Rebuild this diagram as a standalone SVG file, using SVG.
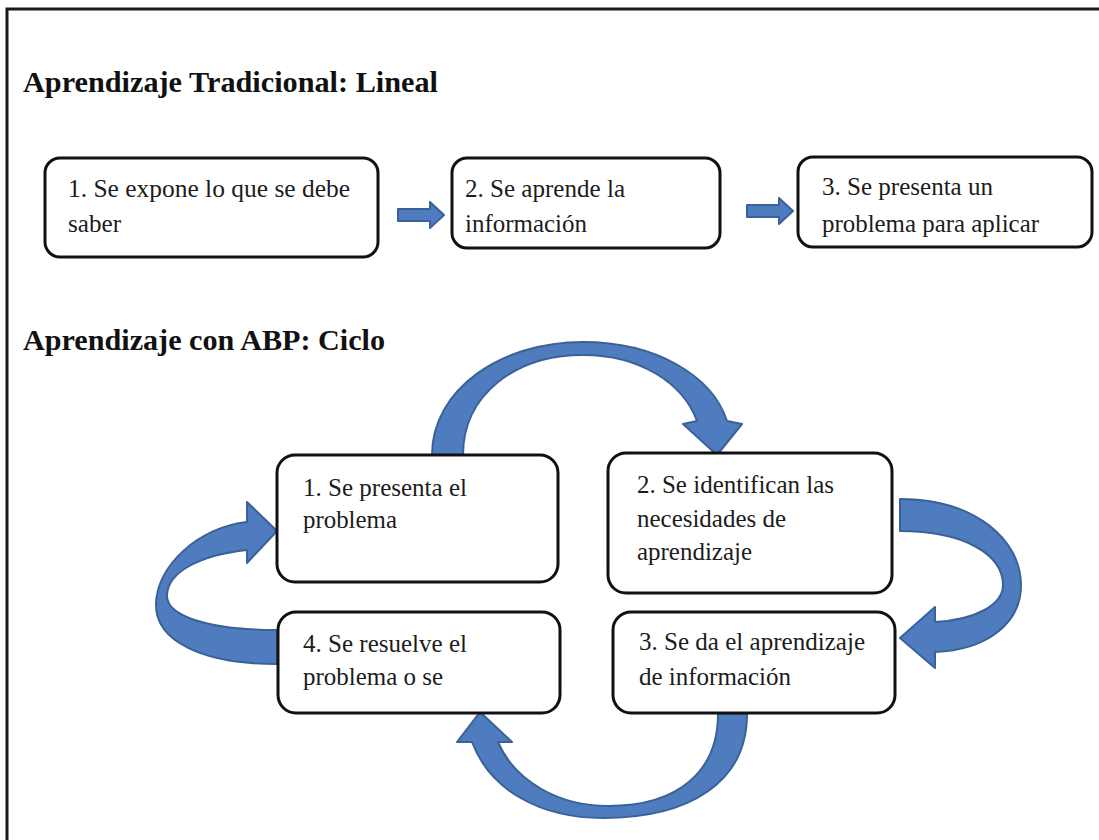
<svg xmlns="http://www.w3.org/2000/svg" width="1099" height="840" viewBox="0 0 1099 840">
<style>
.frame{stroke:#1a1a1a;stroke-width:3;fill:none}
.title{font-family:"Liberation Serif","Tinos","Times New Roman","DejaVu Serif",serif;font-weight:bold;font-size:30px;fill:#111}
.box{fill:#fff;stroke:#111;stroke-width:3}
.t{font-family:"Liberation Serif","Tinos","Times New Roman","DejaVu Serif",serif;font-size:25px;fill:#1c1c1c}
.arrow{fill:#4f7cbf;stroke:#3a6299;stroke-width:2;stroke-linejoin:round}
</style>
<defs>
<clipPath id="clip3"><rect x="798" y="150" width="300" height="89"/></clipPath>
</defs>
<rect x="0" y="0" width="1099" height="840" fill="#fff"/>
<path class="frame" d="M7,840 V9 H1099"/>
<text class="title" x="23" y="92" textLength="415" lengthAdjust="spacingAndGlyphs">Aprendizaje Tradicional: Lineal</text>
<text class="title" x="23" y="350" textLength="362" lengthAdjust="spacingAndGlyphs">Aprendizaje con ABP: Ciclo</text>

<g id="connectors">
<path class="arrow" d="M398,209 H430 V202 L444,215 L430,228 V221 H398 Z"/>
<path class="arrow" d="M747,205 H779 V198 L793,211 L779,224 V217 H747 Z"/>
<path class="arrow" d="M432,455 C432,390 500,342 583,342 C655,342 712,375 727,421 L742,424 L717,455 L683,424 L697,421 C683,383 640,355 583,355 C515,355 463,395 463,455 Z"/>
<path class="arrow" d="M900,499 C975,499 1021,540 1021,585 C1021,625 985,650 935,652 L935,668 L900,638 L935,607 L935,622 C975,620 1003,605 1003,585 C1003,555 965,531 900,531 Z"/>
<path class="arrow" d="M747,714 C747,782 690,818 603,818 C540,818 490,790 472,742 L457,742 L480,712 L512,742 L498,742 C515,782 560,806 608,806 C680,806 718,770 718,714 Z"/>
<path class="arrow" d="M277,664 C200,664 156,640 156,605 C156,565 200,527 247,522 L247,502 L277,531 L247,563 L247,550 C200,555 168,572 167,595 C166,615 205,630 277,630 Z"/>
</g>

<g id="lin1">
<rect class="box" x="45" y="158" width="333" height="99" rx="15"/>
<text class="t" x="68" y="197" textLength="282" lengthAdjust="spacingAndGlyphs">1. Se expone lo que se debe</text>
<text class="t" x="68" y="232" textLength="53" lengthAdjust="spacingAndGlyphs">saber</text>
</g>
<g id="lin2">
<rect class="box" x="452" y="158" width="268" height="90" rx="15"/>
<text class="t" x="465" y="197" textLength="160" lengthAdjust="spacingAndGlyphs">2. Se aprende la</text>
<text class="t" x="465" y="232" textLength="122" lengthAdjust="spacingAndGlyphs">información</text>
</g>
<g id="lin3">
<rect class="box" x="798" y="157" width="294" height="90" rx="15"/>
<text class="t" x="822" y="195" textLength="171" lengthAdjust="spacingAndGlyphs">3. Se presenta un</text>
<text class="t" x="822" y="232" clip-path="url(#clip3)" textLength="217" lengthAdjust="spacingAndGlyphs">problema para aplicar</text>
</g>

<g id="cyc1">
<rect class="box" x="277" y="455" width="281" height="127" rx="18"/>
<text class="t" x="303" y="496" textLength="164" lengthAdjust="spacingAndGlyphs">1. Se presenta el</text>
<text class="t" x="303" y="528" textLength="94" lengthAdjust="spacingAndGlyphs">problema</text>
</g>
<g id="cyc2">
<rect class="box" x="608" y="453" width="284" height="140" rx="18"/>
<text class="t" x="637" y="493" textLength="197" lengthAdjust="spacingAndGlyphs">2. Se identifican las</text>
<text class="t" x="637" y="527" textLength="149" lengthAdjust="spacingAndGlyphs">necesidades de</text>
<text class="t" x="637" y="560" textLength="115" lengthAdjust="spacingAndGlyphs">aprendizaje</text>
</g>
<g id="cyc3">
<rect class="box" x="613" y="612" width="282" height="101" rx="18"/>
<text class="t" x="639" y="650" textLength="226" lengthAdjust="spacingAndGlyphs">3. Se da el aprendizaje</text>
<text class="t" x="639" y="685" textLength="152" lengthAdjust="spacingAndGlyphs">de información</text>
</g>
<g id="cyc4">
<rect class="box" x="278" y="612" width="282" height="101" rx="18"/>
<text class="t" x="303" y="652" textLength="164" lengthAdjust="spacingAndGlyphs">4. Se resuelve el</text>
<text class="t" x="303" y="685" textLength="140" lengthAdjust="spacingAndGlyphs">problema o se</text>
</g>
</svg>
